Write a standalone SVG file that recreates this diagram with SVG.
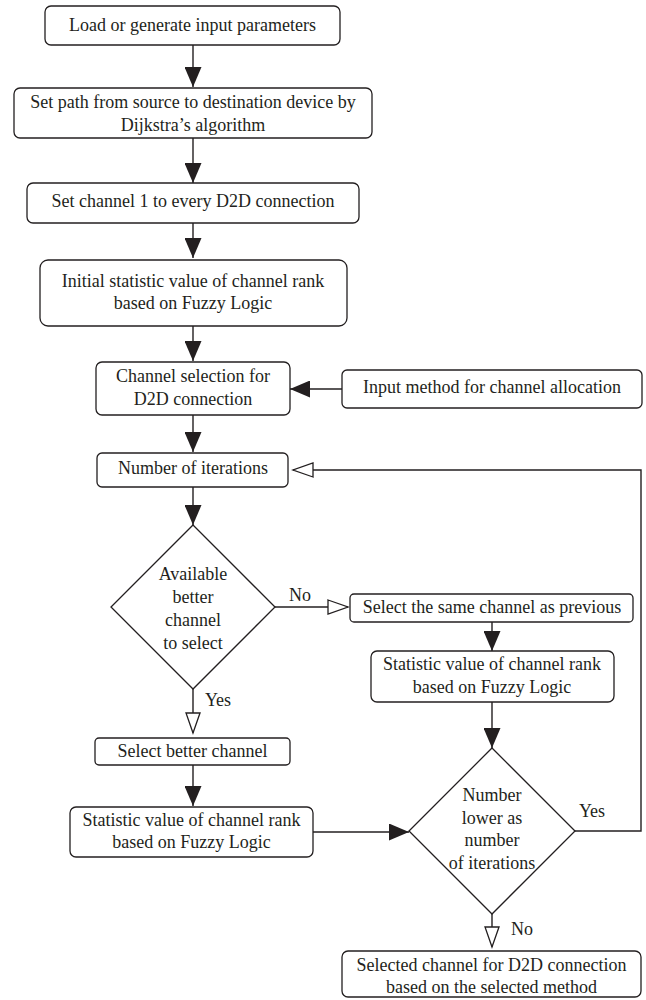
<svg xmlns="http://www.w3.org/2000/svg" width="646" height="1000" viewBox="0 0 646 1000">
<style>
.box{fill:#fff;stroke:#231f20;stroke-width:1.3}
.dia{fill:#fff;stroke:#231f20;stroke-width:1.3}
.t{font-family:"Liberation Serif","Times New Roman",serif;font-size:18px;fill:#231f20;text-anchor:middle}
.c{fill:none;stroke:#231f20;stroke-width:1.4}
.f{marker-end:url(#fa)}
.h{marker-end:url(#ha)}
</style>
<defs>
<marker id="fa" viewBox="0 0 20 17" refX="20" refY="8.5" markerWidth="20" markerHeight="17" markerUnits="userSpaceOnUse" orient="auto">
<path d="M0,0 L20,8.5 L0,17 z" fill="#231f20"/>
</marker>
<marker id="ha" viewBox="-1 -1 22 16" refX="20" refY="7" markerWidth="22" markerHeight="16" markerUnits="userSpaceOnUse" orient="auto" overflow="visible">
<path d="M0,0 L20,7 L0,14 z" fill="#fff" stroke="#231f20" stroke-width="1.3"/>
</marker>
</defs>
<g id="connectors">
<line class="c f" x1="193" y1="45" x2="193" y2="87"/>
<line class="c f" x1="193" y1="138" x2="193" y2="183"/>
<line class="c f" x1="193" y1="223" x2="193" y2="258"/>
<line class="c f" x1="193" y1="326" x2="193" y2="361"/>
<line class="c f" x1="342" y1="389" x2="290" y2="389"/>
<line class="c f" x1="193" y1="415" x2="193" y2="452"/>
<line class="c f" x1="193" y1="487" x2="193" y2="525"/>
<line class="c h" x1="275" y1="607" x2="348" y2="607"/>
<line class="c h" x1="193" y1="689" x2="193" y2="733"/>
<line class="c f" x1="193" y1="765" x2="193" y2="806"/>
<line class="c f" x1="313" y1="832" x2="409" y2="832"/>
<line class="c f" x1="492" y1="622" x2="492" y2="651"/>
<line class="c f" x1="492" y1="702" x2="492" y2="748"/>
<polyline class="c h" points="575,831 641,831 641,470 293,470"/>
<line class="c h" x1="492" y1="914" x2="492" y2="947"/>
<text class="t" x="300" y="601">No</text>
<text class="t" x="218" y="706">Yes</text>
<text class="t" x="592" y="817">Yes</text>
<text class="t" x="522" y="935">No</text>
</g>
<g id="n1"><rect class="box" x="45" y="6" width="295" height="39" rx="6"/><text class="t" x="192.5" y="31">Load or generate input parameters</text></g>
<g id="n2"><rect class="box" x="14" y="88" width="358" height="50" rx="6"/><text class="t" x="193" y="108">Set path from source to destination device by</text><text class="t" x="193" y="130.5">Dijkstra’s algorithm</text></g>
<g id="n3"><rect class="box" x="27" y="183" width="332" height="40" rx="6"/><text class="t" x="193" y="207">Set channel 1 to every D2D connection</text></g>
<g id="n4"><rect class="box" x="40" y="260" width="307" height="66" rx="8"/><text class="t" x="193" y="287">Initial statistic value of channel rank</text><text class="t" x="193" y="309">based on Fuzzy Logic</text></g>
<g id="n5"><rect class="box" x="96" y="362" width="194" height="53" rx="6"/><text class="t" x="193" y="382">Channel selection for</text><text class="t" x="193" y="405">D2D connection</text></g>
<g id="n6"><rect class="box" x="342" y="370" width="300" height="38" rx="5"/><text class="t" x="492" y="393">Input method for channel allocation</text></g>
<g id="n7"><rect class="box" x="97" y="453" width="191" height="34" rx="5"/><text class="t" x="193" y="474">Number of iterations</text></g>
<g id="n8"><polygon class="dia" points="193,525 275,607 193,689 111,607"/><text class="t" x="193" y="580">Available</text><text class="t" x="193" y="603">better</text><text class="t" x="193" y="626">channel</text><text class="t" x="193" y="649">to select</text></g>
<g id="n9"><rect class="box" x="350" y="594" width="283" height="28" rx="4"/><text class="t" x="492" y="613">Select the same channel as previous</text></g>
<g id="n10"><rect class="box" x="371" y="651" width="243" height="51" rx="6"/><text class="t" x="492" y="670">Statistic value of channel rank</text><text class="t" x="492" y="693">based on Fuzzy Logic</text></g>
<g id="n11"><rect class="box" x="95" y="738" width="195" height="27" rx="4"/><text class="t" x="192.5" y="756.5">Select better channel</text></g>
<g id="n12"><rect class="box" x="70" y="807" width="243" height="50" rx="6"/><text class="t" x="191.5" y="825.5">Statistic value of channel rank</text><text class="t" x="191.5" y="848">based on Fuzzy Logic</text></g>
<g id="n13"><polygon class="dia" points="492,748 575,831 492,914 409,831"/><text class="t" x="492" y="801">Number</text><text class="t" x="492" y="823.5">lower as</text><text class="t" x="492" y="846">number</text><text class="t" x="492" y="868.5">of iterations</text></g>
<g id="n14"><rect class="box" x="342" y="951" width="299" height="46" rx="6"/><text class="t" x="491.5" y="970.5">Selected channel for D2D connection</text><text class="t" x="491.5" y="993">based on the selected method</text></g>
</svg>
